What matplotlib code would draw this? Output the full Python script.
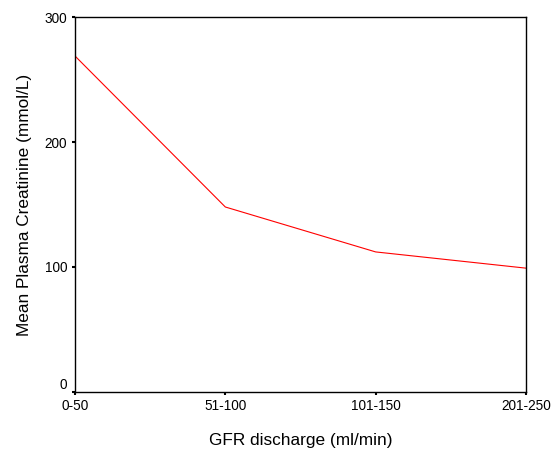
import matplotlib
matplotlib.use("Agg")
import matplotlib.pyplot as plt
import matplotlib.transforms as mtransforms

categories = ["0-50", "51-100", "101-150", "201-250"]
values = [269, 148, 112, 99]
yticks = [0, 100, 200, 300]

plt.rcParams['font.family'] = ['Liberation Sans', 'DejaVu Sans']

fig = plt.figure(figsize=(5.53, 4.54), dpi=100)
ax = fig.add_axes([75/553, 1 - 391.7/454, (526-75)/553, (391.7-17.3)/454])

x = list(range(len(categories)))
ax.plot(x, values, color="#ff0000", linewidth=0.8)

ax.set_xlim(0, len(categories) - 1)
ax.set_ylim(0, 300)
ax.set_xticks(x)
ax.set_xticklabels(categories)
ax.set_yticks(yticks)
ax.tick_params(axis='both', direction='out', length=2.5, width=1.5, labelsize=9.8, pad=3, colors='black')

# the "0" label sits slightly above its tick in the reference
lbl0 = ax.get_yticklabels()[0]
lbl0.set_transform(lbl0.get_transform() + mtransforms.ScaledTranslation(0, 8/100, fig.dpi_scale_trans))

for s in ax.spines.values():
    s.set_linewidth(1.0)
    s.set_color('black')

ax.set_xlabel("GFR discharge (ml/min)", fontsize=12.4, labelpad=14)
ax.set_ylabel("Mean Plasma Creatinine (mmol/L)", fontsize=12.4, labelpad=9)

fig.savefig("out.png", dpi=100)
